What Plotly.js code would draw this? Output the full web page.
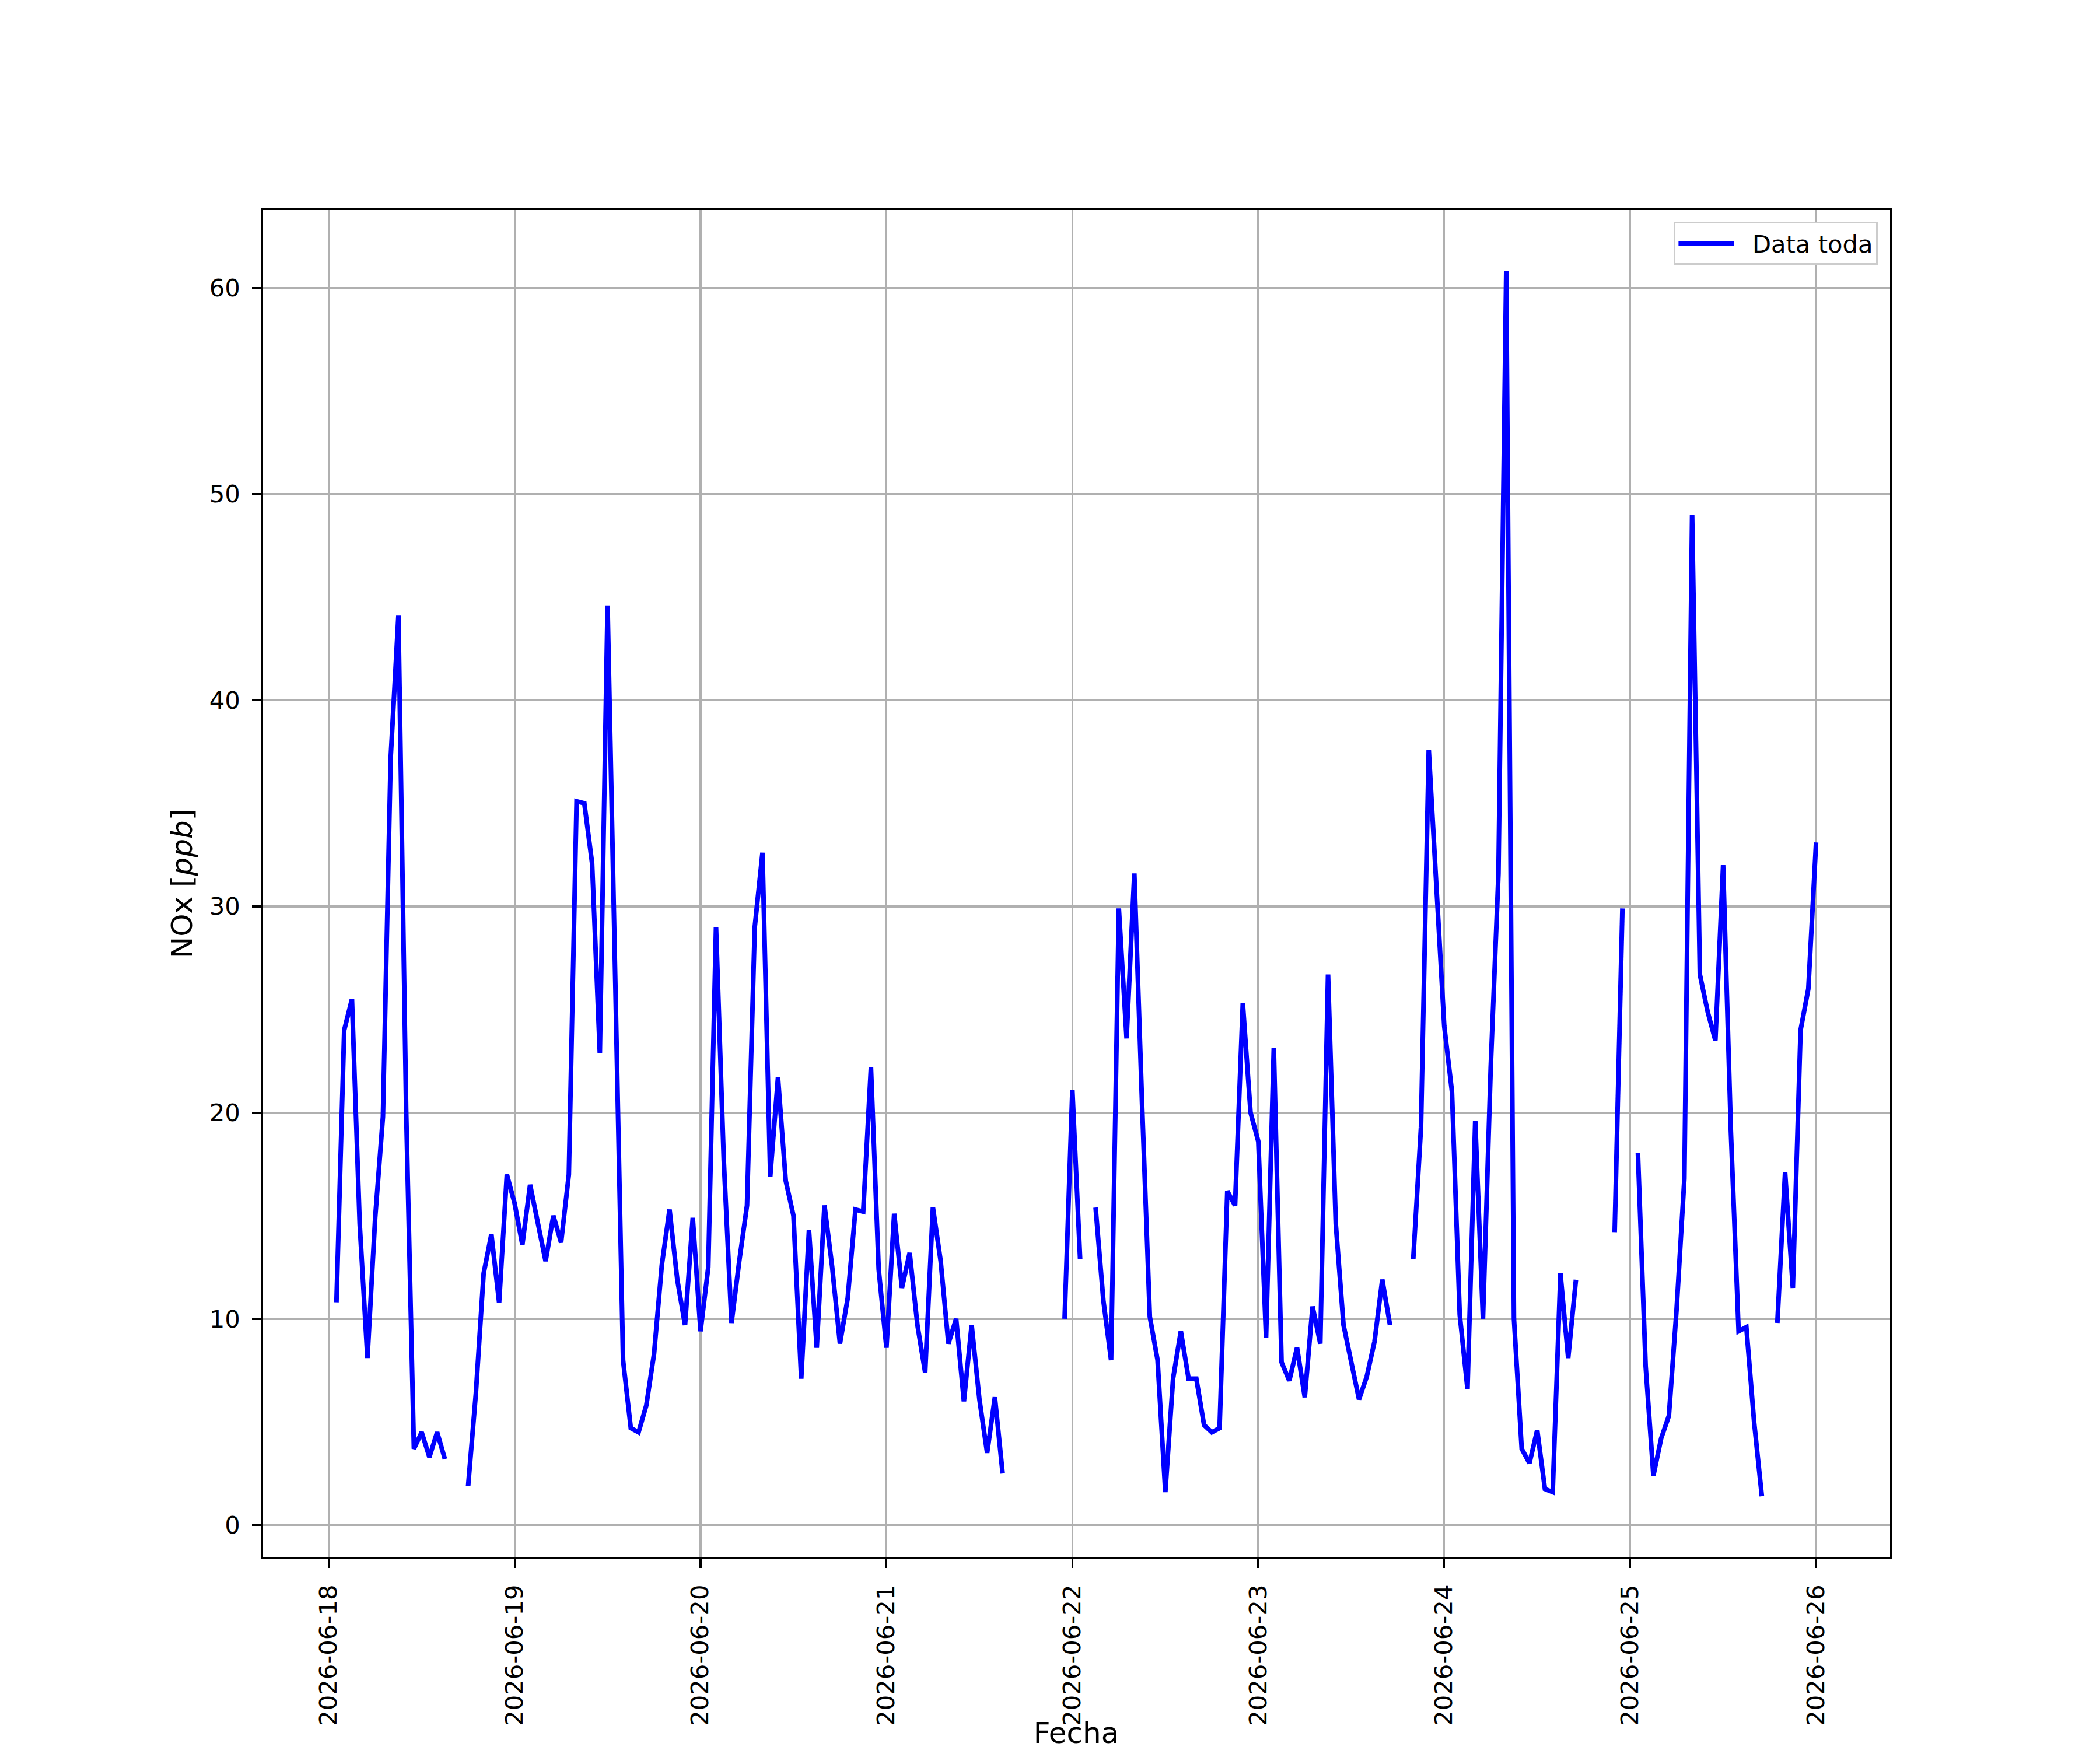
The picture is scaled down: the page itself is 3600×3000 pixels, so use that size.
<!DOCTYPE html>
<html>
<head>
<meta charset="utf-8">
<script src="https://cdn.plot.ly/plotly-3.0.1.min.js"></script>
<style>
  body { margin: 0; background: #fff; }
  #chart { width: 3600px; height: 3000px; }
</style>
</head>
<body>
<div id="chart"></div>
<script>
// hourly NOx values, one array per day (index = hour 0..23), null = no data
var days = ['2026-06-18', '2026-06-19', '2026-06-20', '2026-06-21',
            '2026-06-22', '2026-06-23', '2026-06-24', '2026-06-25'];

var day18 = [null, 10.8, 24.0, 25.5, 14.6, 8.1, 14.9, 19.8, 37.2, 44.1, 20.1, 3.7,
             4.5, 3.3, 4.5, 3.2, null, null, 1.9, 6.4, 12.2, 14.1, 10.8, 17.0];
var day19 = [15.6, 13.6, 16.5, 14.7, 12.8, 15.0, 13.7, 17.0, 35.1, 35.0, 32.1, 22.9,
             44.6, 26.3, 8.0, 4.7, 4.5, 5.8, 8.3, 12.6, 15.3, 11.9, 9.7, 14.9];
var day20 = [9.4, 12.5, 29.0, 17.7, 9.8, 12.8, 15.5, 29.0, 32.6, 16.9, 21.7, 16.7,
             15.0, 7.1, 14.3, 8.6, 15.5, 12.5, 8.8, 11.0, 15.3, 15.2, 22.2, 12.4];
var day21 = [8.6, 15.1, 11.5, 13.2, 9.7, 7.4, 15.4, 12.8, 8.8, 10.0, 6.0, 9.7,
             6.1, 3.5, 6.2, 2.5, null, null, null, null, null, null, null, 10.0];
var day22 = [21.1, 12.9, null, 15.4, 10.9, 8.0, 29.9, 23.6, 31.6, 20.4, 10.1, 8.0,
             1.6, 7.1, 9.4, 7.1, 7.1, 4.85, 4.5, 4.7, 16.2, 15.5, 25.3, 20.0];
var day23 = [18.6, 9.1, 23.15, 7.9, 7.0, 8.6, 6.2, 10.6, 8.8, 26.7, 14.6, 9.7,
             8.0, 6.1, 7.2, 8.9, 11.9, 9.7, null, null, 12.9, 19.3, 37.6, 30.5];
var day24 = [24.2, 21.0, 10.2, 6.6, 19.6, 10.0, 22.2, 31.6, 60.8, 10.0, 3.7, 3.0,
             4.6, 1.75, 1.6, 12.2, 8.1, 11.9, null, null, null, null, 14.2, 29.9];
var day25 = [null, 18.05, 7.7, 2.4, 4.2, 5.3, 10.5, 16.8, 49.0, 26.7, 24.9, 23.5,
             32.0, 19.1, 9.4, 9.6, 5.0, 1.4, null, 9.8, 17.1, 11.5, 24.0, 26.0];
var lastTime = '2026-06-26 00:00';
var lastValue = 33.1;

var dayValues = [day18, day19, day20, day21, day22, day23, day24, day25];

var xs = [];
var ys = [];
days.forEach(function (d, i) {
  dayValues[i].forEach(function (v, h) {
    xs.push(d + ' ' + (h < 10 ? '0' + h : h) + ':00');
    ys.push(v);
  });
});
xs.push(lastTime);
ys.push(lastValue);

var font = { family: 'DejaVu Sans, sans-serif', size: 41.7, color: '#000' };
var labelFont = { family: 'DejaVu Sans, sans-serif', size: 50, color: '#000' };

var trace = {
  x: xs,
  y: ys,
  name: '\u00a0\u00a0Data toda',
  type: 'scatter',
  mode: 'lines',
  connectgaps: false,
  line: { color: '#0000ff', width: 8 },
  hoverinfo: 'skip'
};

var layout = {
  width: 3600,
  height: 3000,
  paper_bgcolor: '#fff',
  plot_bgcolor: '#fff',
  font: font,
  margin: { l: 450, r: 360, t: 360, b: 330 },
  showlegend: true,
  legend: {
    x: 0.9925, xanchor: 'right',
    y: 0.9913, yanchor: 'top',
    bgcolor: '#fff',
    bordercolor: '#cccccc',
    borderwidth: 3.3,
    itemwidth: 95,
    font: font
  },
  xaxis: {
    type: 'date',
    range: ['2026-06-17 15:27', '2026-06-26 09:33'],
    tick0: '2026-06-18',
    dtick: 86400000,
    tickformat: '%Y-%m-%d',
    tickangle: -90,
    ticks: 'outside',
    ticklen: 14.6,
    tickwidth: 3.3,
    tickcolor: '#000',
    ticklabelstandoff: 12,
    showgrid: true,
    gridcolor: '#b0b0b0',
    gridwidth: 3.3,
    zeroline: false,
    showline: true,
    mirror: true,
    linecolor: '#000',
    linewidth: 3.3,
    automargin: false,
    title: { text: 'Fecha', font: labelFont, standoff: 20 }
  },
  yaxis: {
    range: [-1.57, 63.77],
    tick0: 0,
    dtick: 10,
    ticks: 'outside',
    ticklen: 14.6,
    tickwidth: 3.3,
    tickcolor: '#000',
    ticklabelstandoff: 12,
    showgrid: true,
    gridcolor: '#b0b0b0',
    gridwidth: 3.3,
    zeroline: false,
    showline: true,
    mirror: true,
    linecolor: '#000',
    linewidth: 3.3,
    automargin: false,
    title: { text: 'NOx [<i>ppb</i>]', font: labelFont, standoff: 14 }
  }
};

Plotly.newPlot('chart', [trace], layout, { displayModeBar: false, staticPlot: true });
</script>
</body>
</html>
